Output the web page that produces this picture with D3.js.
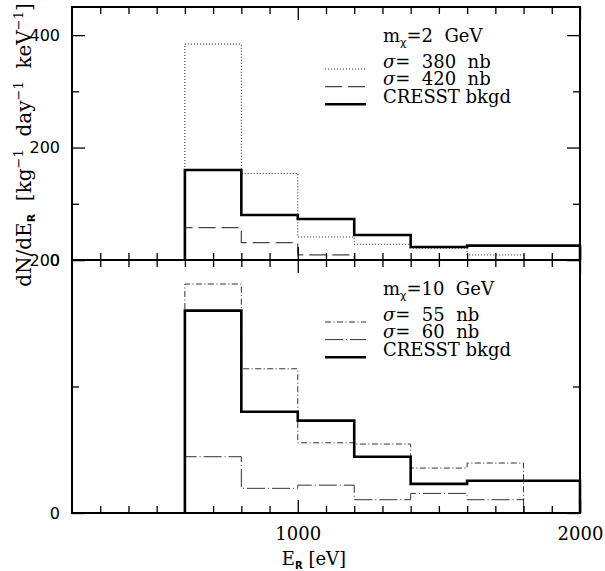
<!DOCTYPE html>
<html>
<head>
<meta charset="utf-8">
<script src="https://cdn.jsdelivr.net/npm/d3@7/dist/d3.min.js"></script>
<style>
body { margin: 0; background: #fff; }
svg text { font-family: 'DejaVu Serif', serif; fill: #000; }
</style>
</head>
<body>
<div id="chart"></div>
<script>
// bin edges in E_R [eV]
var edges = [600, 800, 1000, 1200, 1400, 1600, 1800, 2000];

// dN/dE_R per bin
var bkgd   = [160, 80, 73, 44.5, 23, 25.5, 25.5];
var sig380 = [384, 154, 41, 28, 21, 9, 0];
var sig420 = [57.5, 31, 9, 0, 0, 0, 0];
var sig55  = [181, 114, 55.5, 54.5, 35.5, 39.5, 0];
var sig60  = [44.5, 19.5, 22, 10.5, 15.5, 10.5, 0];

var xMajor = [1000, 2000];
var xMinor = d3.range(300, 2000, 100).filter(d => d % 1000 !== 0);

var width = 605,
	height = 571,
	plotLeft = 72,
	plotRight = 580,
	plotTop = 7,
	plotMid = 260,
	plotBottom = 513;

var svg = d3.select('#chart').append('svg')
	.attr('width', width)
	.attr('height', height);

var x = d3.scaleLinear()
	.domain([200, 2000])
	.range([plotLeft, plotRight]);

var styles = {
	solid:   { w: 2.6, dash: null, c: '#000' },
	dotted:  { w: 1, dash: '1,2', c: '#222' },
	dashed:  { w: 1.2, dash: '17,6', c: '#444' },
	dashdot: { w: 1, dash: '6,2.5,1,2.5', c: '#333' },
	longdd:  { w: 1, dash: '18,3,1,3', c: '#333' }
};

var panels = [
	{
		y: d3.scaleLinear().domain([0, 450]).range([plotMid, plotTop]),
		y0: plotTop, y1: plotMid,
		major: [0, 200, 400], minor: [100, 300],
		title: '2 GeV',
		series: [
			{ label: '380 nb', values: sig380, style: 'dotted' },
			{ label: '420 nb', values: sig420, style: 'dashed' },
			{ label: 'CRESST bkgd', values: bkgd, style: 'solid' }
		]
	},
	{
		y: d3.scaleLinear().domain([0, 200]).range([plotBottom, plotMid]),
		y0: plotMid, y1: plotBottom,
		major: [0, 200], minor: [100],
		title: '10 GeV',
		series: [
			{ label: '55 nb', values: sig55, style: 'dashdot' },
			{ label: '60 nb', values: sig60, style: 'longdd' },
			{ label: 'CRESST bkgd', values: bkgd, style: 'solid' }
		]
	}
];

// histogram outline: up from zero at first edge, steps, back to zero after last filled bin
function histPoints(values) {
	var n = values.length;
	while (n > 0 && values[n - 1] === 0) n--;
	var pts = [[edges[0], 0]];
	for (var i = 0; i < n; i++) {
		pts.push([edges[i], values[i]]);
		pts.push([edges[i + 1], values[i]]);
	}
	pts.push([edges[n], 0]);
	return pts;
}

function styleTicks(g) {
	g.select('.domain').remove();
	g.selectAll('.tick line').attr('stroke', '#000').attr('stroke-width', 1.3);
}

panels.forEach(function(p, pi) {
	var g = svg.append('g').attr('class', 'panel');
	var line = d3.line()
		.x(d => x(d[0]))
		.y(d => p.y(d[1]));

	// histograms (background last so it sits on top)
	p.series.forEach(function(s) {
		var st = styles[s.style];
		g.append('path')
			.attr('d', line(histPoints(s.values)))
			.attr('fill', 'none')
			.attr('stroke', st.c)
			.attr('stroke-width', st.w)
			.attr('stroke-dasharray', st.dash)
			.attr('stroke-linejoin', 'miter');
	});

	// left axis
	g.append('g')
		.attr('transform', 'translate(' + plotLeft + ',0)')
		.call(d3.axisLeft(p.y).tickValues(p.major).tickSize(-13).tickPadding(12).tickFormat(d3.format('d')))
		.call(styleTicks)
		.selectAll('text')
		.style('font-family', "'DejaVu Sans', sans-serif")
		.style('font-size', '16px');
	g.append('g')
		.attr('transform', 'translate(' + plotLeft + ',0)')
		.call(d3.axisLeft(p.y).tickValues(p.minor).tickSize(-7).tickFormat(''))
		.call(styleTicks);

	// right axis
	g.append('g')
		.attr('transform', 'translate(' + plotRight + ',0)')
		.call(d3.axisRight(p.y).tickValues(p.major).tickSize(-13).tickFormat(''))
		.call(styleTicks);
	g.append('g')
		.attr('transform', 'translate(' + plotRight + ',0)')
		.call(d3.axisRight(p.y).tickValues(p.minor).tickSize(-7).tickFormat(''))
		.call(styleTicks);

	// top and bottom x ticks
	g.append('g')
		.attr('transform', 'translate(0,' + p.y0 + ')')
		.call(d3.axisTop(x).tickValues(xMajor).tickSize(-13).tickFormat(''))
		.call(styleTicks);
	g.append('g')
		.attr('transform', 'translate(0,' + p.y0 + ')')
		.call(d3.axisTop(x).tickValues(xMinor).tickSize(-7).tickFormat(''))
		.call(styleTicks);
	var xb = g.append('g')
		.attr('transform', 'translate(0,' + p.y1 + ')')
		.call(d3.axisBottom(x).tickValues(xMajor).tickSize(-13).tickPadding(14)
			.tickFormat(pi === 1 ? d3.format('d') : ''))
		.call(styleTicks);
	xb.selectAll('text').style('font-size', '18px');
	g.append('g')
		.attr('transform', 'translate(0,' + p.y1 + ')')
		.call(d3.axisBottom(x).tickValues(xMinor).tickSize(-7).tickFormat(''))
		.call(styleTicks);

	// frame
	g.append('rect')
		.attr('x', plotLeft)
		.attr('y', p.y0)
		.attr('width', plotRight - plotLeft)
		.attr('height', p.y1 - p.y0)
		.attr('fill', 'none')
		.attr('stroke', '#000')
		.attr('stroke-width', 2);

	// legend
	var lx0 = 325, lx1 = 366, tx = 383;
	var title = g.append('text')
		.attr('x', tx)
		.attr('y', p.y0 + 34.5)
		.style('font-size', '18px')
		.style('white-space', 'pre');
	title.append('tspan').text('m');
	title.append('tspan')
		.attr('dy', 4)
		.style('font-family', "'DejaVu Sans', sans-serif")
		.style('font-size', '11px')
		.text('χ');
	title.append('tspan').attr('dy', -4).text('=' + p.title.replace(' ', '  '));

	p.series.forEach(function(s, i) {
		var ty = p.y0 + 60.5 + i * 17.6;
		var st = styles[s.style];
		g.append('line')
			.attr('x1', lx0).attr('x2', lx1)
			.attr('y1', ty + 1.5).attr('y2', ty + 1.5)
			.attr('stroke', st.c)
			.attr('stroke-width', st.w)
			.attr('stroke-dasharray', st.dash);
		var t = g.append('text')
			.attr('x', tx)
			.attr('y', ty)
			.style('font-size', '18px')
			.style('white-space', 'pre');
		if (s.style === 'solid') {
			t.text(s.label);
		} else {
			t.append('tspan').style('font-style', 'italic').text('σ');
			t.append('tspan').text('=  ' + s.label.replace(' ', '  '));
		}
	});
});

// x label
var xl = svg.append('text')
	.attr('x', 314)
	.attr('y', 565)
	.attr('text-anchor', 'middle')
	.style('font-size', '18px')
	.style('white-space', 'pre');
xl.append('tspan').text('E');
xl.append('tspan').attr('dy', 4)
	.style('font-family', "'DejaVu Sans', sans-serif")
	.style('font-weight', 'bold')
	.style('font-size', '10px')
	.text('R');
xl.append('tspan').attr('dy', -4).text(' [eV]');

// y label
var yl = svg.append('text')
	.attr('transform', 'translate(31,145) rotate(-90)')
	.attr('text-anchor', 'middle')
	.style('font-size', '20px')
	.style('white-space', 'pre');
yl.append('tspan').text('dN/dE');
yl.append('tspan').attr('dy', 4)
	.style('font-family', "'DejaVu Sans', sans-serif")
	.style('font-weight', 'bold')
	.style('font-size', '11px')
	.text('R');
yl.append('tspan').attr('dy', -4).text('  [kg');
[' day', ' keV', ']'].forEach(function(part) {
	yl.append('tspan').attr('dy', -8)
		.style('font-size', '13px')
		.text('−1');
	yl.append('tspan').attr('dy', 8).text(part == ']' ? part : ' ' + part);
});
</script>
</body>
</html>
